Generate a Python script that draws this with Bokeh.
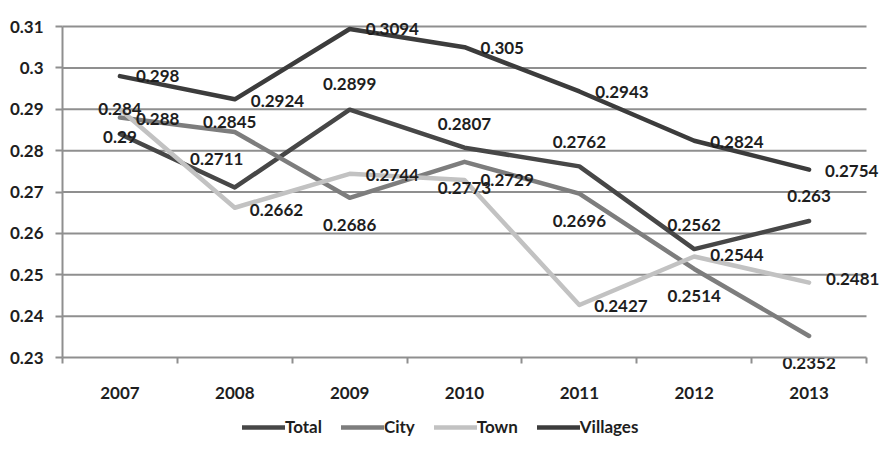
import numpy as np
from bokeh.plotting import figure
from bokeh.models import ColumnDataSource, FixedTicker, Legend, LegendItem, Range1d
from bokeh.core.properties import value
from bokeh.embed import file_html
from bokeh.resources import INLINE

# ---------------- data ----------------
years = [2007, 2008, 2009, 2010, 2011, 2012, 2013]
series_names = ["Total", "City", "Town", "Villages"]
total = [0.284, 0.2711, 0.2899, 0.2807, 0.2762, 0.2562, 0.263]
city = [0.288, 0.2845, 0.2686, 0.2773, 0.2696, 0.2514, 0.2352]
town = [0.29, 0.2662, 0.2744, 0.2729, 0.2427, 0.2544, 0.2481]
villages = [0.298, 0.2924, 0.3094, 0.305, 0.2943, 0.2824, 0.2754]
y_ticks = [0.23, 0.24, 0.25, 0.26, 0.27, 0.28, 0.29, 0.3, 0.31]
y_tick_labels = ["0.23", "0.24", "0.25", "0.26", "0.27", "0.28", "0.29", "0.3", "0.31"]

# ---------------- styles / layout ----------------
colors = {"Total": "#474747", "City": "#7d7d7d", "Town": "#c2c2c2", "Villages": "#3c3c3c"}
# label placement (pixel offsets, screen-down positive) per series
label_style = {
    "Total": dict(dx=[0, -18, 0, 0, 0, 0, 0], dy=[-25, -28, -26, -24, -24, -24, -25],
                  align=["center"] * 7),
    "City": dict(dx=[16, -5, 0, 0, 0, 0, 0], dy=[1, -10, 27, 26, 27, 27, 27],
                 align=["left", "center", "center", "center", "center", "center", "center"]),
    "Town": dict(dx=[0, 15, 16, 16, 15, 16, 17], dy=[28, 2, 1, 0, 1, -2, -4],
                 align=["center", "left", "left", "left", "left", "left", "left"]),
    "Villages": dict(dx=[16] * 7, dy=[0, 2, 0, 1, 1, 1, 1], align=["left"] * 7),
}
FONT = "Lato"
GRID = "#8f8f8f"
TEXT = "#1e1e1e"
FS = "17px"

W, H = 880, 438
PL, PR, PT, PB = 62, 866, 26, 357      # plot-area pixel box inside the canvas

x0, x1 = years[0] - 0.5, years[-1] + 0.5
y0, y1 = y_ticks[0], y_ticks[-1]
xs = (x1 - x0) / (PR - PL)
ys = (y1 - y0) / (PB - PT)

p = figure(width=W, height=H, output_backend="svg", toolbar_location=None,
           x_range=Range1d(x0 - PL * xs, x1 + (W - PR) * xs),
           y_range=Range1d(y0 - (H - PB) * ys, y1 + PT * ys),
           min_border=0, min_border_left=0, min_border_right=0,
           min_border_top=0, min_border_bottom=0)
p.outline_line_color = None
p.background_fill_color = "white"
p.xgrid.grid_line_color = None
p.ygrid.grid_line_color = None

# horizontal gridlines within plot area
p.segment(x0=[x0] * (len(y_ticks) - 1), x1=[x1] * (len(y_ticks) - 1),
          y0=y_ticks[1:], y1=y_ticks[1:], line_color=GRID, line_width=2, level="underlay")

# axes fixed at plot-area edges
p.xaxis.fixed_location = y0
p.xaxis.bounds = (x0, x1)
p.xaxis.ticker = FixedTicker(ticks=years, minor_ticks=[y - 0.5 for y in years] + [x1])
p.xaxis.major_tick_out = 0
p.xaxis.major_tick_in = 0
p.xaxis.minor_tick_out = 6
p.xaxis.minor_tick_in = 0
p.xaxis.minor_tick_line_color = GRID
p.xaxis.minor_tick_line_width = 2
p.xaxis.axis_line_color = GRID
p.xaxis.axis_line_width = 2
p.xaxis.major_label_standoff = 23

p.yaxis.fixed_location = x0
p.yaxis.bounds = (y0, y1)
p.yaxis.ticker = FixedTicker(ticks=y_ticks)
p.yaxis.major_label_overrides = {t: l for t, l in zip(y_ticks, y_tick_labels)}
p.yaxis.major_tick_out = 7
p.yaxis.major_tick_in = 0
p.yaxis.minor_tick_line_color = None
p.yaxis.major_tick_line_color = GRID
p.yaxis.major_tick_line_width = 2
p.yaxis.axis_line_color = GRID
p.yaxis.axis_line_width = 2
p.yaxis.major_label_standoff = 12

for ax in (p.xaxis, p.yaxis):
    ax.major_label_text_font = FONT
    ax.major_label_text_font_style = "bold"
    ax.major_label_text_font_size = FS
    ax.major_label_text_color = TEXT

data = {"Total": total, "City": city, "Town": town, "Villages": villages}
items = []
for name in series_names:
    vals = data[name]
    r = p.line(years, vals, line_color=colors[name], line_width=4.5, line_join="round", line_cap="round")
    items.append(LegendItem(label=name, renderers=[r]))

for name in series_names:
    vals = data[name]
    st = label_style[name]
    src = ColumnDataSource(dict(x=years, y=vals, t=[str(v) for v in vals],
                                dx=st["dx"], dy=st["dy"], al=st["align"]))
    p.text(x="x", y="y", text="t", x_offset="dx", y_offset="dy", text_align="al",
           text_baseline="middle", text_font=value(FONT), text_font_style="bold",
           text_font_size=FS, text_color=TEXT, source=src)

legend = Legend(items=items, orientation="horizontal", location=(242, 1))
legend.glyph_width = 43
legend.glyph_height = 14
legend.label_standoff = 0
legend.spacing = 19
legend.padding = 0
legend.margin = 0
legend.border_line_color = None
legend.background_fill_alpha = 0
legend.label_text_font = FONT
legend.label_text_font_style = "bold"
legend.label_text_font_size = FS
legend.label_text_color = TEXT
p.add_layout(legend, "center")

open("out.html", "w").write(file_html(p, INLINE))
